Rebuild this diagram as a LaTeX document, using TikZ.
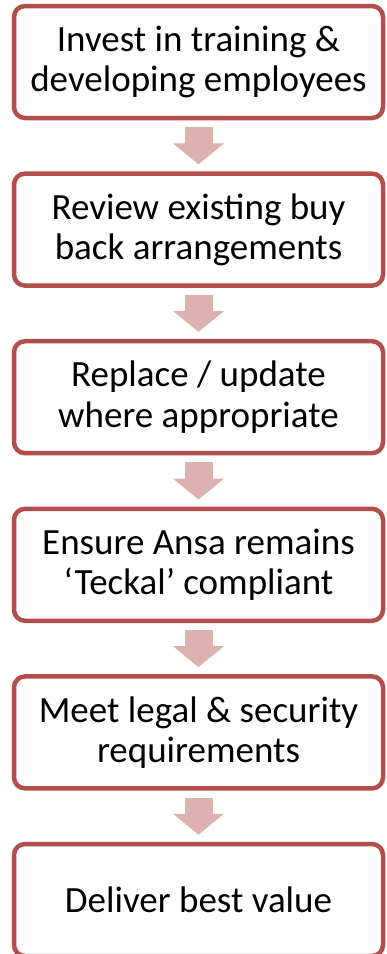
\documentclass[tikz,border=0pt]{standalone}
\usepackage{fontspec}
\setmainfont{Carlito}
\usetikzlibrary{arrows.meta}
\definecolor{boxline}{HTML}{B24E4B}
\definecolor{arrowfill}{HTML}{DDB1B0}
\begin{document}
\begin{tikzpicture}[x=1pt,y=1pt,
  stepbox/.style={draw=boxline, line width=4.5pt, rounded corners=11pt, fill=white,
    minimum width=369pt, minimum height=112pt, align=center, inner sep=0pt,
    font=\fontsize{37}{40.5}\selectfont, text=black},
  flowarrow/.style={draw=arrowfill, line width=28pt,
    -{Triangle[width=50pt,length=21pt]}, shorten <=7pt, shorten >=7pt}]
\useasboundingbox (0,0) rectangle (386,-954);
\node[stepbox] (b1) at (198.5,-62) {Invest in training \&\\developing employees};
\node[stepbox] (b2) at (198.5,-229.6) {Review existing buy\\back arrangements};
\node[stepbox] (b3) at (198.5,-397.2) {Replace / update\\where appropriate};
\node[stepbox] (b4) at (198.5,-564.8) {Ensure Ansa remains\\‘Teckal’ compliant};
\node[stepbox] (b5) at (198.5,-732.4) {Meet legal \& security\\requirements};
\node[stepbox] (b6) at (198.5,-900) {Deliver best value};
\draw[flowarrow] (b1.south) -- (b2.north);
\draw[flowarrow] (b2.south) -- (b3.north);
\draw[flowarrow] (b3.south) -- (b4.north);
\draw[flowarrow] (b4.south) -- (b5.north);
\draw[flowarrow] (b5.south) -- (b6.north);
\end{tikzpicture}
\end{document}
